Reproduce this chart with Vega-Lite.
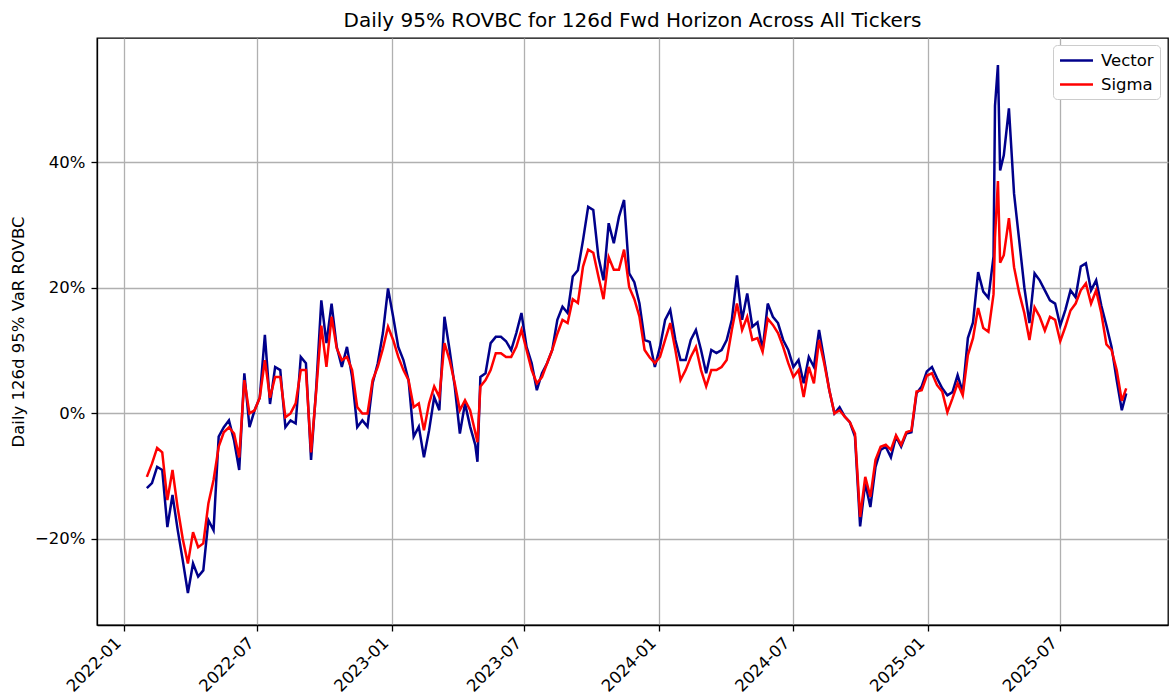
{
"$schema": "https://vega.github.io/schema/vega-lite/v6.json",
"width": 1071, "height": 587,
"autosize": {"type": "none"},
"padding": {"left": 97, "top": 38, "right": 1, "bottom": 71},
"background": "white",
"title": {"text": "Daily 95% ROVBC for 126d Fwd Horizon Across All Tickers", "fontSize": 20, "font": "DejaVu Sans", "fontWeight": "normal", "color": "black", "offset": 7, "anchor": "middle"},
"config": {
  "font": "DejaVu Sans",
  "view": {"stroke": "black", "strokeWidth": 1.3},
  "axis": {"domainColor": "black", "domainWidth": 1.3, "tickColor": "black", "tickWidth": 1.3, "tickSize": 6, "labelColor": "black", "labelFontSize": 16.5, "labelFont": "DejaVu Sans", "titleFont": "DejaVu Sans", "titleFontSize": 16.5, "titleFontWeight": "normal", "titleColor": "black", "gridColor": "#b0b0b0", "gridWidth": 1.3, "gridOpacity": 1}
},
"data": {"values": [
{"d":"2022-02-01","v":-11.9,"s":-10.1},{"d":"2022-02-08","v":-11.1,"s":-8.0},{"d":"2022-02-15","v":-8.5,"s":-5.5},{"d":"2022-02-22","v":-9.0,"s":-6.2},
{"d":"2022-03-01","v":-18.1,"s":-13.8},{"d":"2022-03-08","v":-13.0,"s":-9.0},{"d":"2022-03-15","v":-18.5,"s":-15.0},{"d":"2022-03-22","v":-23.4,"s":-20.0},{"d":"2022-03-29","v":-28.6,"s":-23.9},
{"d":"2022-04-05","v":-23.9,"s":-18.9},{"d":"2022-04-12","v":-26.0,"s":-21.3},{"d":"2022-04-19","v":-25.0,"s":-20.7},{"d":"2022-04-26","v":-17.0,"s":-14.3},
{"d":"2022-05-03","v":-18.6,"s":-10.6},{"d":"2022-05-10","v":-3.7,"s":-5.3},{"d":"2022-05-17","v":-2.2,"s":-3.0},{"d":"2022-05-24","v":-1.1,"s":-2.2},{"d":"2022-05-31","v":-4.3,"s":-3.2},
{"d":"2022-06-07","v":-9.0,"s":-7.0},{"d":"2022-06-14","v":6.4,"s":5.3},{"d":"2022-06-21","v":-2.2,"s":0.0},{"d":"2022-06-28","v":0.5,"s":0.5},
{"d":"2022-07-05","v":2.5,"s":2.5},{"d":"2022-07-12","v":12.5,"s":8.5},{"d":"2022-07-19","v":1.5,"s":2.5},{"d":"2022-07-26","v":7.4,"s":5.8},
{"d":"2022-08-02","v":6.9,"s":5.8},{"d":"2022-08-09","v":-2.2,"s":-0.6},{"d":"2022-08-16","v":-1.1,"s":0.0},{"d":"2022-08-23","v":-1.6,"s":1.6},{"d":"2022-08-30","v":9.0,"s":6.9},
{"d":"2022-09-06","v":8.0,"s":6.9},{"d":"2022-09-13","v":-7.4,"s":-6.2},{"d":"2022-09-20","v":4.0,"s":3.5},{"d":"2022-09-27","v":18.0,"s":14.0},
{"d":"2022-10-04","v":11.2,"s":7.4},{"d":"2022-10-11","v":17.5,"s":15.4},{"d":"2022-10-18","v":10.6,"s":10.4},{"d":"2022-10-25","v":7.4,"s":8.5},
{"d":"2022-11-01","v":10.6,"s":9.0},{"d":"2022-11-08","v":5.8,"s":6.9},{"d":"2022-11-15","v":-2.2,"s":1.0},{"d":"2022-11-22","v":-1.1,"s":0.0},{"d":"2022-11-29","v":-2.1,"s":0.0},
{"d":"2022-12-06","v":4.8,"s":5.3},{"d":"2022-12-13","v":8.0,"s":7.4},{"d":"2022-12-20","v":12.8,"s":10.3},{"d":"2022-12-27","v":19.9,"s":13.8},
{"d":"2023-01-03","v":15.4,"s":11.7},{"d":"2023-01-10","v":10.6,"s":9.0},{"d":"2023-01-17","v":8.5,"s":6.9},{"d":"2023-01-24","v":5.3,"s":5.3},{"d":"2023-01-31","v":-3.7,"s":1.0},
{"d":"2023-02-07","v":-2.1,"s":1.6},{"d":"2023-02-14","v":-7.0,"s":-2.7},{"d":"2023-02-21","v":-2.7,"s":1.6},{"d":"2023-02-28","v":2.6,"s":4.3},
{"d":"2023-03-07","v":0.5,"s":2.6},{"d":"2023-03-14","v":15.4,"s":11.2},{"d":"2023-03-21","v":10.1,"s":8.5},{"d":"2023-03-28","v":4.3,"s":4.8},
{"d":"2023-04-04","v":-3.2,"s":0.5},{"d":"2023-04-11","v":1.6,"s":2.1},{"d":"2023-04-18","v":-2.1,"s":0.5},{"d":"2023-04-25","v":-5.0,"s":-3.0},{"d":"2023-04-28","v":-7.7,"s":-4.6},
{"d":"2023-05-02","v":5.8,"s":4.3},{"d":"2023-05-09","v":6.4,"s":5.3},{"d":"2023-05-16","v":11.2,"s":6.9},{"d":"2023-05-23","v":12.2,"s":9.6},{"d":"2023-05-30","v":12.2,"s":9.6},
{"d":"2023-06-06","v":11.5,"s":9.0},{"d":"2023-06-13","v":10.1,"s":9.0},{"d":"2023-06-20","v":12.8,"s":10.6},{"d":"2023-06-27","v":16.0,"s":13.3},
{"d":"2023-07-04","v":10.6,"s":10.1},{"d":"2023-07-11","v":8.0,"s":6.9},{"d":"2023-07-18","v":3.7,"s":4.8},{"d":"2023-07-25","v":6.4,"s":5.8},
{"d":"2023-08-01","v":8.0,"s":8.0},{"d":"2023-08-08","v":10.1,"s":10.1},{"d":"2023-08-15","v":14.9,"s":12.7},{"d":"2023-08-22","v":17.0,"s":14.9},{"d":"2023-08-29","v":16.0,"s":14.4},
{"d":"2023-09-05","v":21.8,"s":18.2},{"d":"2023-09-12","v":22.8,"s":17.6},{"d":"2023-09-19","v":27.6,"s":23.4},{"d":"2023-09-26","v":32.9,"s":26.1},
{"d":"2023-10-03","v":32.4,"s":25.6},{"d":"2023-10-10","v":24.9,"s":21.8},{"d":"2023-10-17","v":21.2,"s":18.2},{"d":"2023-10-24","v":30.3,"s":24.9},{"d":"2023-10-31","v":27.1,"s":22.9},
{"d":"2023-11-07","v":31.3,"s":22.9},{"d":"2023-11-14","v":34.0,"s":26.1},{"d":"2023-11-21","v":22.3,"s":20.1},{"d":"2023-11-28","v":20.9,"s":18.2},
{"d":"2023-12-05","v":17.5,"s":15.4},{"d":"2023-12-12","v":11.7,"s":10.1},{"d":"2023-12-19","v":11.4,"s":8.9},{"d":"2023-12-26","v":7.4,"s":8.0},
{"d":"2024-01-02","v":10.6,"s":9.0},{"d":"2024-01-09","v":14.9,"s":11.7},{"d":"2024-01-16","v":16.5,"s":14.4},{"d":"2024-01-23","v":11.7,"s":10.1},{"d":"2024-01-30","v":8.5,"s":5.3},
{"d":"2024-02-06","v":8.5,"s":6.9},{"d":"2024-02-13","v":11.7,"s":9.0},{"d":"2024-02-20","v":13.3,"s":10.6},{"d":"2024-02-27","v":10.1,"s":6.9},
{"d":"2024-03-05","v":6.4,"s":4.3},{"d":"2024-03-12","v":10.1,"s":6.9},{"d":"2024-03-19","v":9.6,"s":6.9},{"d":"2024-03-26","v":10.1,"s":7.4},
{"d":"2024-04-02","v":11.7,"s":8.5},{"d":"2024-04-09","v":14.9,"s":13.3},{"d":"2024-04-16","v":22.0,"s":17.5},{"d":"2024-04-23","v":14.9,"s":13.3},{"d":"2024-04-30","v":19.1,"s":15.4},
{"d":"2024-05-07","v":13.8,"s":11.7},{"d":"2024-05-14","v":14.5,"s":12.0},{"d":"2024-05-21","v":10.1,"s":9.8},{"d":"2024-05-28","v":17.5,"s":15.1},
{"d":"2024-06-04","v":15.4,"s":14.1},{"d":"2024-06-11","v":14.4,"s":12.8},{"d":"2024-06-18","v":11.7,"s":10.6},{"d":"2024-06-25","v":10.1,"s":8.0},
{"d":"2024-07-02","v":7.4,"s":5.8},{"d":"2024-07-09","v":8.5,"s":6.9},{"d":"2024-07-16","v":4.8,"s":2.6},{"d":"2024-07-23","v":9.0,"s":7.4},{"d":"2024-07-30","v":7.4,"s":4.8},
{"d":"2024-08-06","v":13.3,"s":11.7},{"d":"2024-08-13","v":8.5,"s":8.0},{"d":"2024-08-20","v":3.7,"s":3.7},{"d":"2024-08-27","v":0.0,"s":0.0},
{"d":"2024-09-03","v":1.0,"s":0.5},{"d":"2024-09-10","v":-0.5,"s":-0.5},{"d":"2024-09-17","v":-1.4,"s":-1.4},{"d":"2024-09-24","v":-3.7,"s":-3.2},
{"d":"2024-10-01","v":-18.0,"s":-16.5},{"d":"2024-10-08","v":-11.1,"s":-10.1},{"d":"2024-10-15","v":-14.9,"s":-13.3},{"d":"2024-10-22","v":-8.5,"s":-7.4},{"d":"2024-10-29","v":-5.8,"s":-5.3},
{"d":"2024-11-05","v":-5.3,"s":-5.0},{"d":"2024-11-12","v":-7.0,"s":-5.8},{"d":"2024-11-19","v":-3.7,"s":-3.5},{"d":"2024-11-26","v":-5.3,"s":-5.0},
{"d":"2024-12-03","v":-3.2,"s":-3.0},{"d":"2024-12-10","v":-3.0,"s":-2.7},{"d":"2024-12-17","v":3.2,"s":3.5},{"d":"2024-12-24","v":4.3,"s":3.7},{"d":"2024-12-31","v":6.7,"s":6.0},
{"d":"2025-01-07","v":7.4,"s":6.4},{"d":"2025-01-14","v":5.6,"s":4.5},{"d":"2025-01-21","v":4.0,"s":3.5},{"d":"2025-01-28","v":2.9,"s":0.2},
{"d":"2025-02-04","v":3.4,"s":2.4},{"d":"2025-02-11","v":6.1,"s":4.8},{"d":"2025-02-18","v":3.4,"s":2.9},{"d":"2025-02-25","v":12.0,"s":9.3},
{"d":"2025-03-04","v":14.5,"s":12.0},{"d":"2025-03-11","v":22.5,"s":16.8},{"d":"2025-03-18","v":19.4,"s":13.6},{"d":"2025-03-25","v":18.4,"s":13.0},
{"d":"2025-04-01","v":25.0,"s":19.0},{"d":"2025-04-03","v":49.0,"s":28.0},{"d":"2025-04-07","v":55.5,"s":37.0},{"d":"2025-04-10","v":38.7,"s":24.0},{"d":"2025-04-15","v":41.1,"s":25.2},
{"d":"2025-04-22","v":48.6,"s":31.1},{"d":"2025-04-29","v":35.0,"s":23.3},
{"d":"2025-05-06","v":27.6,"s":19.2},{"d":"2025-05-13","v":20.1,"s":16.0},{"d":"2025-05-20","v":14.4,"s":11.7},{"d":"2025-05-27","v":22.3,"s":16.9},
{"d":"2025-06-03","v":21.2,"s":15.4},{"d":"2025-06-10","v":19.6,"s":13.2},{"d":"2025-06-17","v":18.0,"s":15.4},{"d":"2025-06-24","v":17.5,"s":14.9},
{"d":"2025-07-01","v":14.0,"s":11.5},{"d":"2025-07-08","v":16.5,"s":13.8},{"d":"2025-07-15","v":19.6,"s":16.4},{"d":"2025-07-22","v":18.5,"s":17.5},{"d":"2025-07-29","v":23.4,"s":19.6},
{"d":"2025-08-05","v":23.9,"s":20.7},{"d":"2025-08-12","v":19.6,"s":17.5},{"d":"2025-08-19","v":21.2,"s":19.6},{"d":"2025-08-26","v":17.2,"s":16.0},
{"d":"2025-09-02","v":14.0,"s":11.0},{"d":"2025-09-09","v":10.6,"s":10.1},{"d":"2025-09-16","v":5.3,"s":6.9},{"d":"2025-09-23","v":0.5,"s":2.0},{"d":"2025-09-29","v":3.2,"s":4.0}
]},
"encoding": {
  "x": {"field": "d", "type": "temporal",
    "scale": {"type": "utc", "domain": [{"year": 2021, "month": 11, "date": 25, "utc": true}, {"year": 2025, "month": 11, "date": 25, "utc": true}]},
    "axis": {"title": null, "format": "%Y-%m", "labelAngle": -45, "labelAlign": "right", "labelBaseline": "middle", "labelOffset": -6, "labelPadding": 9, "grid": true,
      "values": [{"year": 2022, "month": 1, "date": 1, "utc": true}, {"year": 2022, "month": 7, "date": 1, "utc": true}, {"year": 2023, "month": 1, "date": 1, "utc": true}, {"year": 2023, "month": 7, "date": 1, "utc": true}, {"year": 2024, "month": 1, "date": 1, "utc": true}, {"year": 2024, "month": 7, "date": 1, "utc": true}, {"year": 2025, "month": 1, "date": 1, "utc": true}, {"year": 2025, "month": 7, "date": 1, "utc": true}]}}
},
"layer": [
  {"mark": {"type": "line", "strokeWidth": 2.5, "clip": true},
   "encoding": {
     "y": {"field": "v", "type": "quantitative", "scale": {"domain": [-33.7, 59.8], "nice": false, "zero": false},
       "axis": {"title": "Daily 126d 95% VaR ROVBC", "titlePadding": 8, "values": [-20, 0, 20, 40], "labelPadding": 6, "grid": true,
         "labelExpr": "(datum.value < 0 ? '\u2212' : '') + format(abs(datum.value), '.0f') + '%'"}},
     "color": {"datum": "Vector", "type": "nominal",
       "scale": {"domain": ["Vector", "Sigma"], "range": ["#00008b", "#ff0000"]},
       "legend": {"title": null, "orient": "none", "legendX": 956, "legendY": 7, "symbolType": "M-2,0H2", "symbolSize": 272, "symbolOffset": 8, "symbolStrokeWidth": 2.5, "labelFontSize": 16.5, "labelFont": "DejaVu Sans", "labelColor": "black", "labelOffset": 15, "padding": 6, "rowPadding": 6, "strokeColor": "#cccccc", "fillColor": "white", "cornerRadius": 4}}
   }},
  {"mark": {"type": "line", "strokeWidth": 2.5, "clip": true},
   "encoding": {
     "y": {"field": "s", "type": "quantitative"},
     "color": {"datum": "Sigma", "type": "nominal"}
   }}
]
}
